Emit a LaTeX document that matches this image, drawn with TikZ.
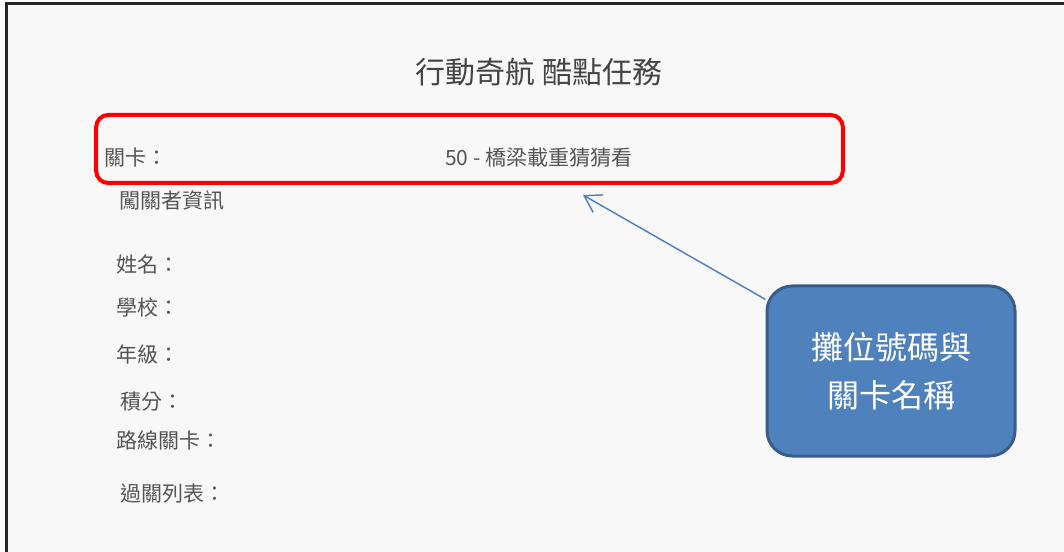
\documentclass[tikz,border=0pt]{standalone}
\usepackage{fontspec}
\setmainfont{Noto Sans CJK TC}
\usepackage{tikz}
\usetikzlibrary{positioning,arrows.meta}
\definecolor{pagegray}{HTML}{F8F8F8}
\definecolor{textgray}{HTML}{555555}
\definecolor{calloutblue}{HTML}{4F81BD}
\definecolor{calloutedge}{HTML}{385D8A}

\begin{document}
\begin{tikzpicture}[
  x=0.75pt, y=-0.75pt,
  field/.style={anchor=west,inner sep=0pt,text=textgray,font=\fontsize{15.75}{18}\selectfont},
  heading/.style={inner sep=0pt,text=textgray!80!black,font=\fontsize{22.5}{26}\selectfont},
  highlight/.style={draw=red,line width=3pt,rounded corners=9pt,minimum width=560pt,minimum height=51pt},
  callout/.style={draw=calloutedge,fill=calloutblue,line width=2.25pt,rounded corners=19pt,
    minimum width=186pt,minimum height=127.5pt,text=white,align=center,
    font=\fontsize{24}{36}\selectfont}
  ]
  \useasboundingbox (0,0) rectangle (1064,552);
  \fill[white] (0,0) rectangle (1064,552);
  \fill[pagegray] (6,4) rectangle (1064,552);
  \draw[line width=2.25pt,black!85] (6,552) -- (6,4) -- (1064,4);

  \node[heading] (title) at (539,72) {行動奇航 酷點任務};
  \node[highlight] (hl) at (469.5,149) {};
  \node[field] (lvl) at (104,158) {關卡：};
  \node[field] (lvlname) at (445,158) {50 - 橋梁載重猜猜看};
  \node[field] (info) at (119,200) {闖關者資訊};
  \node[field] (name) at (116,265) {姓名：};
  \node[field] (school) at (116,307) {學校：};
  \node[field] (grade) at (116,354) {年級：};
  \node[field] (score) at (120,402) {積分：};
  \node[field] (route) at (116,441) {路線關卡：};
  \node[field] (passed) at (120,494) {過關列表：};

  \node[callout] (note) at (891,371) {攤位號碼與\\關卡名稱};
  \coordinate (tip) at (583,195);
  \draw[calloutblue,line width=1.1pt,-{Straight Barb[length=12pt,width=15pt]}] (note) -- (tip);
\end{tikzpicture}
\end{document}
